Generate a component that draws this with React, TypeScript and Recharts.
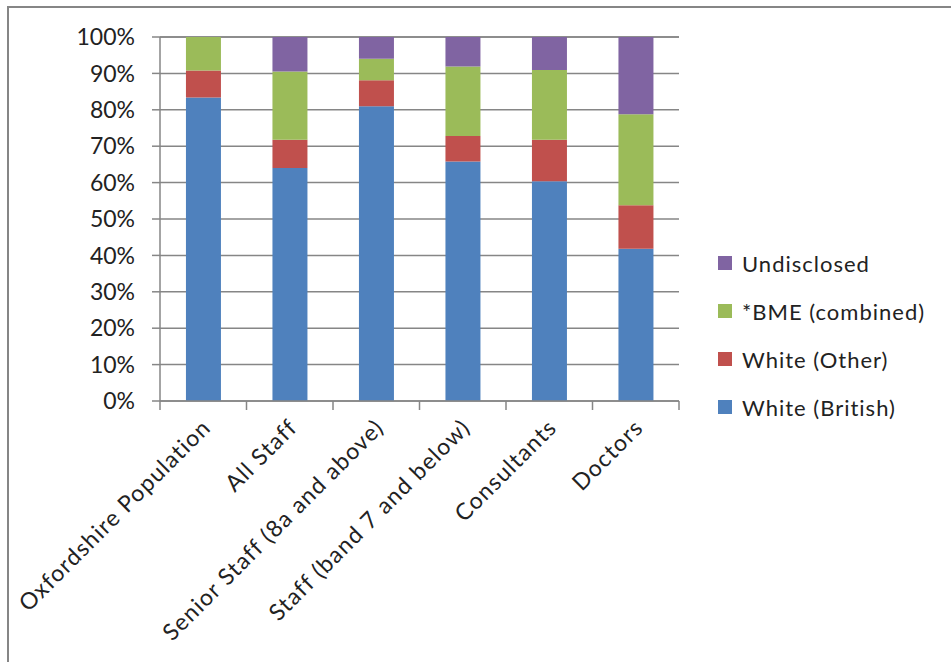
import React from 'react'
import { BarChart, Bar, XAxis, YAxis, CartesianGrid, Legend } from 'recharts'

const categories = [
  'Oxfordshire Population',
  'All Staff',
  'Senior Staff (8a and above)',
  'Staff (band 7 and below)',
  'Consultants',
  'Doctors',
]
const whiteBritish = [83.4, 64.0, 81.0, 65.8, 60.4, 41.8]
const whiteOther = [7.4, 7.8, 7.1, 7.0, 11.4, 12.0]
const bmeCombined = [9.2, 18.7, 5.9, 19.1, 19.1, 25.0]
const undisclosed = [0, 9.5, 6.0, 8.1, 9.1, 21.2]
const yTicks = [0, 10, 20, 30, 40, 50, 60, 70, 80, 90, 100]

const series = [
  { key: 'whiteBritish', name: 'White (British)', color: '#4F81BD' },
  { key: 'whiteOther', name: 'White (Other)', color: '#C0504D' },
  { key: 'bme', name: '*BME (combined)', color: '#9BBB59' },
  { key: 'undisclosed', name: 'Undisclosed', color: '#8064A2' },
]

const data = categories.map((name, i) => ({
  name,
  whiteBritish: whiteBritish[i],
  whiteOther: whiteOther[i],
  bme: bmeCombined[i],
  undisclosed: undisclosed[i],
}))

const W = 951
const H = 662
const LEFT = 160
const TOP = 37
const RIGHT = 272
const BOTTOM = 261
const BAND = (W - LEFT - RIGHT) / categories.length
const AXIS = '#868686'
const FONT = 'Lato, "Open Sans", sans-serif'

// category labels rotated like Excel, tick marks sit on the band edges
function CategoryTick(props: any) {
  const { x, y, payload, index } = props
  const half = BAND / 2
  const ax = x + 9
  const ay = y + 28
  return (
    <g>
      <line x1={x - half} x2={x - half} y1={y} y2={y + 9} stroke={AXIS} strokeWidth={1.5} />
      {index === categories.length - 1 && (
        <line x1={x + half} x2={x + half} y1={y} y2={y + 9} stroke={AXIS} strokeWidth={1.5} />
      )}
      <text
        x={ax}
        y={ay}
        textAnchor="end"
        fill="#222"
        fontSize={23}
        letterSpacing={1.2}
        fontFamily={FONT}
        transform={`rotate(-45 ${ax} ${ay})`}
      >
        {payload.value}
      </text>
    </g>
  )
}

function LegendBox() {
  return (
    <div style={{ fontFamily: FONT, fontSize: 22, letterSpacing: 1, color: '#222' }}>
      {[...series].reverse().map((s) => (
        <div key={s.key} style={{ display: 'flex', alignItems: 'center', height: 48 }}>
          <span style={{ width: 14, height: 14, background: s.color, marginRight: 10, display: 'inline-block' }} />
          <span>{s.name}</span>
        </div>
      ))}
    </div>
  )
}

export default function App() {
  return (
    <div style={{ position: 'absolute', left: 0, top: 0, width: W, height: H, overflow: 'hidden', background: '#fff' }}>
      <div
        style={{
          position: 'absolute',
          left: 7,
          top: 6,
          width: W,
          height: H,
          borderTop: `2px solid ${AXIS}`,
          borderLeft: `2px solid ${AXIS}`,
        }}
      />
      <div style={{ position: 'absolute', left: 0, top: 0 }}>
        <BarChart
          width={W}
          height={H}
          data={data}
          margin={{ top: TOP, right: RIGHT, bottom: 0, left: 0 }}
          barCategoryGap="30%"
        >
          <CartesianGrid horizontal vertical={false} stroke={AXIS} strokeWidth={1.5} />
          <XAxis
            dataKey="name"
            height={BOTTOM}
            interval={0}
            tickLine={false}
            tickSize={0}
            tickMargin={0}
            axisLine={{ stroke: AXIS, strokeWidth: 1.5 }}
            tick={<CategoryTick />}
          />
          <YAxis
            width={LEFT}
            domain={[0, 100]}
            ticks={yTicks}
            interval={0}
            tickFormatter={(v: number) => `${v}%`}
            tickSize={8}
            tickMargin={17}
            tickLine={{ stroke: AXIS, strokeWidth: 1.5 }}
            axisLine={{ stroke: AXIS, strokeWidth: 1.5 }}
            tick={{ fill: '#222', fontSize: 23, fontFamily: FONT }}
          />
          {series.map((s) => (
            <Bar key={s.key} dataKey={s.key} name={s.name} stackId="a" fill={s.color} isAnimationActive={false} />
          ))}
          <Legend
            layout="vertical"
            verticalAlign="middle"
            align="center"
            content={() => <LegendBox />}
            wrapperStyle={{ left: 718, top: 239, width: 233, right: 'auto', bottom: 'auto' }}
          />
        </BarChart>
      </div>
    </div>
  )
}
